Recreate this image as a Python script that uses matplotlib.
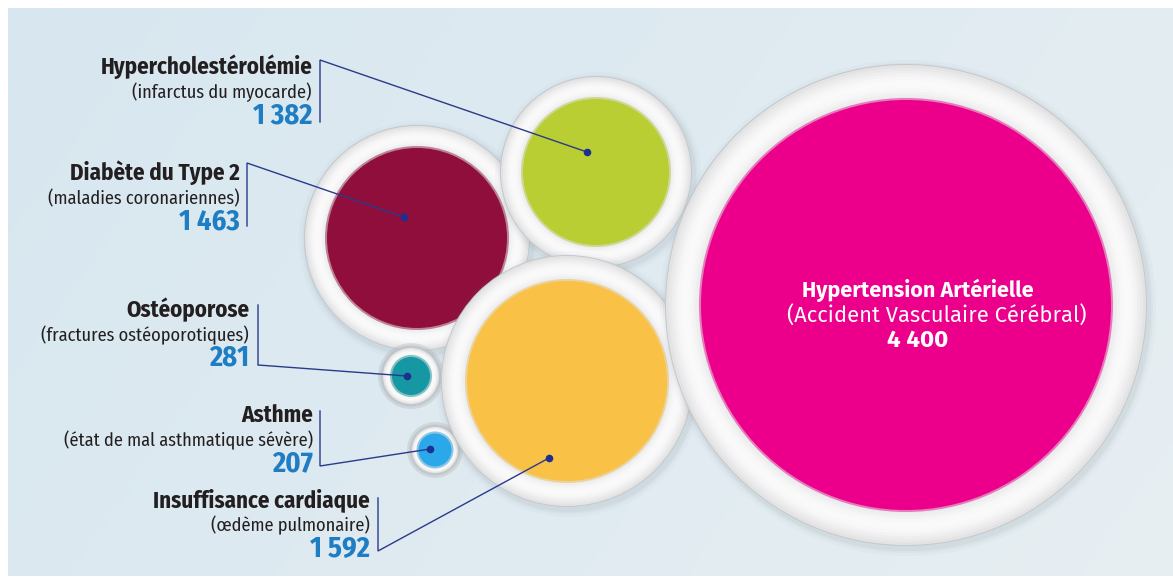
import matplotlib
matplotlib.use("Agg")
import matplotlib.pyplot as plt
from matplotlib.patches import Circle
from matplotlib import font_manager
from matplotlib.colors import to_rgb
import numpy as np

# data
names = ["Hypercholestérolémie", "Diabète du Type 2", "Ostéoporose",
         "Asthme", "Insuffisance cardiaque", "Hypertension Artérielle"]
causes = ["(infarctus du myocarde)", "(maladies coronariennes)",
          "(fractures ostéoporotiques)", "(état de mal asthmatique sévère)",
          "(œdème pulmonaire)", "(Accident Vasculaire Cérébral)"]
values = [1382, 1463, 281, 207, 1592, 4400]
colors = ["#b8ce33", "#8f0e3b", "#1598a3", "#2aa8ea", "#f9c246", "#ec008b"]

# layout in pixels (y down)
centers = [(596, 172), (417, 238), (411, 376), (435, 450), (567, 381), (906, 305)]
inner_r = [73, 90, 19, 16.5, 100, 205]
ring_r = [95, 112, 28, 23, 125, 240]
dots = [(587, 152), (404, 217), (407, 376), (430, 449), (549, 458)]
label_x = [312, 240, 249, 313, 370]
label_y = [68, 174, 311, 416, 501]
brk_x = [320, 247, 258, 320, 378]
brk_y = [(60, 122), (163, 226), (305, 365), (411, 466), (498, 551)]
brk_from = ["top", "top", "bottom", "bottom", "bottom"]
draw_order = [1, 0, 2, 3, 4, 5]


def fmt(v):
    s = str(v)
    if len(s) > 3:
        s = s[:-3] + " " + s[-3:]
    return s


def pick(prefs):
    avail = {f.name for f in font_manager.fontManager.ttflist}
    for p in prefs:
        if p in avail:
            return p
    return "DejaVu Sans"


def mix(c, other, a):
    c = np.array(to_rgb(c))
    o = np.array(to_rgb(other))
    return tuple(c * (1 - a) + o * a)


narrow = pick(["Fira Sans Condensed", "PT Sans Narrow", "Liberation Sans Narrow"])
wide = pick(["Fira Sans", "PT Sans", "Open Sans"])
plt.rcParams["font.family"] = [narrow, "DejaVu Sans"]

W, H = 1173, 581
fig = plt.figure(figsize=(W / 100, H / 100), dpi=100)
ax = fig.add_axes([0, 0, 1, 1])
ax.set_xlim(0, W)
ax.set_ylim(H, 0)
ax.axis("off")
fig.patch.set_facecolor("white")

# background gradient
gx = np.linspace(0, 1, 200)
gy = np.linspace(0, 1, 100)
GX, GY = np.meshgrid(gx, gy)
c0 = np.array([0.845, 0.905, 0.94])
c1 = np.array([0.905, 0.935, 0.95])
t = (0.75 * GX + 0.25 * GY)[..., None]
bg = c0 * (1 - t) + c1 * t
ax.imshow(bg, extent=(8, W, 576, 8), zorder=0, aspect="auto")

z = 1
for i in draw_order:
    cx, cy = centers[i]
    R = ring_r[i]
    r = inner_r[i]
    small = r < 30
    # shadow / grey halo
    if small:
        ax.add_patch(Circle((cx, cy), R + 5, color="#aeb4b9", alpha=0.35, lw=0, zorder=z))
        ax.add_patch(Circle((cx, cy), R + 2.5, color="#b9bec2", alpha=0.6, lw=0, zorder=z))
    else:
        for k, a in [(8, 0.04), (5, 0.06), (3, 0.08)]:
            ax.add_patch(Circle((cx + 2, cy + 3), R + k, color="#7d8a94", alpha=a, lw=0, zorder=z))
    ax.add_patch(Circle((cx, cy), R + 1, color="#c4c9cd", lw=0, zorder=z + 0.1))
    # ring gradient
    steps = 12
    for s in range(steps):
        rr = R - (R - r) * s / steps
        g = 0.89 + 0.09 * np.sin(np.pi * s / steps)
        ax.add_patch(Circle((cx, cy), rr, color=(g, g, min(g + 0.005, 1)), lw=0, zorder=z + 0.2 + s * 0.01))
    # soft edge + colour
    ax.add_patch(Circle((cx, cy), r + 2, color=mix(colors[i], "#e0e0e0", 0.55), lw=0, zorder=z + 0.4))
    ax.add_patch(Circle((cx, cy), r, color=colors[i], lw=0, zorder=z + 0.5))
    z += 1

# callouts
navy = "#2a3a8a"
for i in range(5):
    x0 = brk_x[i]
    ytop, ybot = brk_y[i]
    dx, dy = dots[i]
    if brk_from[i] == "top":
        xs, ys = [x0, x0, dx], [ybot, ytop, dy]
    else:
        xs, ys = [x0, x0, dx], [ytop, ybot, dy]
    ax.plot(xs, ys, color=navy, lw=1.0, zorder=20, solid_joinstyle="miter")
    ax.scatter([dx], [dy], s=30, color="#1d2f8f", zorder=21, lw=0)
    lx, ly = label_x[i], label_y[i]
    ax.text(lx, ly + 6, names[i], ha="right", va="baseline", fontsize=16.5,
            fontweight="bold", color="#231f20", zorder=22)
    ax.text(lx, ly + 30, causes[i], ha="right", va="baseline", fontsize=13.2,
            color="#231f20", zorder=22)
    ax.text(lx, ly + 55, fmt(values[i]), ha="right", va="baseline", fontsize=20.5,
            fontweight="bold", color="#1f7dc3", zorder=22)

# big bubble label
ax.text(918, 297, names[5], ha="center", va="baseline", fontsize=15.5,
        fontweight="bold", color="white", family=[wide, "DejaVu Sans"], zorder=22)
ax.text(937, 323, causes[5], ha="center", va="baseline", fontsize=15.8,
        color="white", family=[wide, "DejaVu Sans"], zorder=22)
ax.text(918, 347, fmt(values[5]), ha="center", va="baseline", fontsize=17.5,
        fontweight="bold", color="white", family=[wide, "DejaVu Sans"], zorder=22)

fig.savefig("out.png", dpi=100, facecolor="white")
